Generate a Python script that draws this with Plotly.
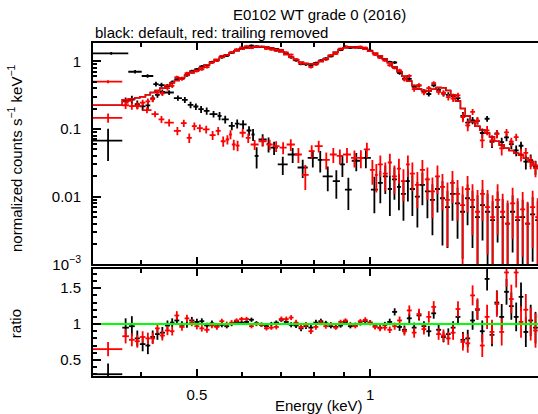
import numpy as np
import plotly.graph_objects as go

# ---------------- data ----------------
# source spectrum channel edges (keV), shared by both data sets
src_edges = [0.330, 0.371, 0.381, 0.390, 0.398, 0.407, 0.415, 0.423, 0.431, 0.440,
             0.449, 0.457, 0.466, 0.476, 0.485, 0.495, 0.505, 0.515, 0.526, 0.536,
             0.547, 0.558, 0.569, 0.580, 0.592, 0.604, 0.616, 0.628, 0.641, 0.654,
             0.667, 0.680, 0.694, 0.708, 0.722, 0.736, 0.751, 0.766, 0.781, 0.797,
             0.813, 0.829, 0.846, 0.863, 0.880, 0.897, 0.915, 0.933, 0.952, 0.971,
             0.990, 1.010, 1.030, 1.050, 1.071, 1.092, 1.114, 1.136, 1.158, 1.181,
             1.204, 1.228, 1.252, 1.277, 1.302, 1.328, 1.354, 1.380, 1.407, 1.435,
             1.463, 1.492, 1.521, 1.551, 1.581, 1.612, 1.644, 1.676, 1.709, 1.742,
             1.776, 1.811, 1.846, 1.882, 1.919, 1.956, 1.994]

# folded model (normalized counts s^-1 keV^-1)
src_model = [0.225, 0.27, 0.28, 0.29, 0.30, 0.32, 0.345, 0.37, 0.40, 0.44,
             0.48, 0.52, 0.57, 0.62, 0.68, 0.74, 0.81, 0.89, 0.97, 1.06,
             1.15, 1.24, 1.34, 1.43, 1.50, 1.56, 1.61, 1.64, 1.65, 1.63,
             1.57, 1.49, 1.38, 1.26, 1.15, 1.05, 0.97, 0.925, 0.91, 0.93,
             0.99, 1.09, 1.22, 1.36, 1.49, 1.58, 1.63, 1.63, 1.58, 1.50,
             1.41, 1.31, 1.20, 1.08, 0.95, 0.82, 0.70, 0.60, 0.51, 0.44,
             0.39, 0.37, 0.365, 0.385, 0.41, 0.405, 0.37, 0.32, 0.26, 0.20,
             0.155, 0.128, 0.110, 0.097, 0.087, 0.076, 0.066, 0.058, 0.052, 0.048,
             0.044, 0.041, 0.037, 0.033, 0.029, 0.026]

# data/model ratios and their errors
ratio_black = [0.30, 0.95, 0.97, 0.80, 0.72, 0.70, 0.82, 0.86, 0.88, 0.98,
               1.02, 1.05, 0.99, 1.00, 1.05, 1.03, 1.04, 0.98, 1.01, 0.97,
               0.99, 0.97, 1.00, 1.03, 1.02, 1.03, 1.06, 1.01, 0.99, 0.97,
               1.00, 1.02, 1.06, 1.03, 0.99, 0.98, 0.94, 0.97, 0.95, 1.02,
               1.04, 1.01, 0.97, 0.96, 0.98, 1.03, 0.97, 0.99, 1.01, 1.04,
               1.02, 0.97, 0.95, 0.99, 1.03, 1.17, 0.96, 0.92, 1.08, 0.95,
               1.12, 0.97, 0.90, 1.15, 0.92, 0.82, 0.86, 0.95, 1.10, 0.78,
               0.80, 1.05, 1.20, 0.90, 1.63, 0.85, 1.30, 1.10, 1.45, 1.25,
               1.10, 1.38, 0.89, 1.05, 0.95, 1.10]
ratio_black_err = [0.15, 0.13, 0.14, 0.11, 0.10, 0.12, 0.09, 0.08, 0.08, 0.07,
                   0.06, 0.06, 0.05, 0.05, 0.05, 0.045, 0.04, 0.04, 0.04, 0.035,
                   0.035, 0.03, 0.03, 0.03, 0.03, 0.03, 0.03, 0.03, 0.03, 0.03,
                   0.03, 0.03, 0.03, 0.035, 0.035, 0.035, 0.04, 0.04, 0.04, 0.04,
                   0.035, 0.035, 0.03, 0.03, 0.03, 0.03, 0.03, 0.03, 0.03, 0.03,
                   0.035, 0.035, 0.035, 0.04, 0.045, 0.05, 0.055, 0.06, 0.065, 0.07,
                   0.07, 0.07, 0.075, 0.075, 0.07, 0.075, 0.08, 0.09, 0.10, 0.11,
                   0.12, 0.13, 0.14, 0.15, 0.16, 0.16, 0.17, 0.18, 0.18, 0.19,
                   0.20, 0.20, 0.21, 0.22, 0.22, 0.23]
ratio_red = [0.65, 0.83, 0.78, 0.76, 0.82, 0.80, 0.80, 0.94, 0.84, 0.91,
             0.90, 1.12, 0.96, 1.08, 1.02, 0.97, 0.94, 0.92, 0.98, 0.96,
             1.04, 1.00, 1.02, 1.05, 1.07, 1.07, 0.97, 1.00, 0.99, 0.94,
             0.95, 0.96, 1.07, 1.07, 1.09, 1.02, 0.96, 0.99, 0.90, 0.96,
             1.02, 0.97, 1.00, 0.95, 1.03, 1.05, 1.00, 0.97, 1.04, 1.06,
             1.02, 0.96, 0.94, 0.95, 0.92, 0.97, 1.05, 0.90, 1.19, 0.88,
             1.14, 0.93, 1.10, 1.24, 0.86, 0.84, 0.80, 0.88, 1.21, 0.75,
             0.73, 1.40, 1.21, 0.70, 1.10, 0.89, 1.28, 0.89, 1.72, 1.35,
             1.72, 1.03, 1.20, 1.00, 0.91, 1.12]
ratio_red_err = [0.10, 0.10, 0.09, 0.09, 0.08, 0.08, 0.08, 0.07, 0.07, 0.065,
                 0.06, 0.06, 0.055, 0.05, 0.05, 0.045, 0.045, 0.04, 0.04, 0.04,
                 0.035, 0.035, 0.035, 0.03, 0.03, 0.03, 0.03, 0.03, 0.03, 0.03,
                 0.03, 0.035, 0.035, 0.035, 0.035, 0.04, 0.04, 0.04, 0.04, 0.04,
                 0.035, 0.035, 0.03, 0.03, 0.03, 0.03, 0.03, 0.03, 0.03, 0.035,
                 0.035, 0.035, 0.04, 0.04, 0.045, 0.05, 0.055, 0.06, 0.07, 0.07,
                 0.075, 0.075, 0.08, 0.08, 0.08, 0.085, 0.09, 0.10, 0.11, 0.12,
                 0.13, 0.14, 0.15, 0.16, 0.17, 0.17, 0.18, 0.19, 0.20, 0.20,
                 0.21, 0.22, 0.22, 0.23, 0.24, 0.25]

# lower spectra (black / red)
bkg_black_edges = [0.330, 0.380, 0.401, 0.420, 0.429, 0.439, 0.456, 0.471, 0.482, 0.493,
                   0.503, 0.514, 0.526, 0.543, 0.552, 0.568, 0.582, 0.593, 0.610, 0.622,
                   0.630, 0.640, 0.661, 0.671, 0.691, 0.719, 0.748, 0.779, 0.811, 0.827,
                   0.861, 0.886, 0.904, 0.929, 0.963, 1.003, 1.031, 1.052, 1.073, 1.091,
                   1.113, 1.131, 1.154, 1.172, 1.196, 1.220, 1.245, 1.270, 1.296, 1.322,
                   1.349, 1.376, 1.404, 1.433, 1.462, 1.491, 1.521, 1.552, 1.583, 1.616,
                   1.648, 1.682, 1.716, 1.750, 1.786, 1.822, 1.859, 1.896, 1.935, 1.974]
bkg_black = [1.31, 0.70, 0.606, 0.46, 0.445, 0.346, 0.286, 0.27, 0.227, 0.215,
             0.196, 0.185, 0.166, 0.156, 0.139, 0.111, 0.12, 0.117, 0.095, 0.083,
             0.040, 0.070, 0.060, 0.053, 0.030, 0.042, 0.027, 0.0375, 0.035, 0.020,
             0.017, 0.030, 0.0127, 0.034, 0.0375, 0.0127, 0.016, 0.020, 0.013, 0.018,
             0.014, 0.011, 0.017, 0.013, 0.010, 0.015, 0.012, 0.009, 0.013, 0.0095,
             0.007, 0.011, 0.008, 0.006, 0.0095, 0.007, 0.005, 0.0075, 0.006, 0.0045,
             0.007, 0.005, 0.004, 0.006, 0.0045, 0.005, 0.004, 0.0055, 0.0045]
bkg_black_relerr = [0.05, 0.06, 0.06, 0.08, 0.08, 0.08, 0.09, 0.10, 0.11, 0.11,
                    0.12, 0.12, 0.11, 0.14, 0.13, 0.14, 0.15, 0.15, 0.16, 0.20,
                    0.35, 0.20, 0.25, 0.22, 0.30, 0.25, 0.30, 0.28, 0.35, 0.40,
                    0.45, 0.35, 0.50, 0.30, 0.30, 0.55, 0.50, 0.45, 0.60, 0.50,
                    0.55, 0.60, 0.50, 0.60, 0.65, 0.50, 0.60, 0.70, 0.55, 0.80,
                    0.75, 0.60, 0.70, 0.80, 0.60, 0.75, 1.10, 0.70, 0.85, 0.90,
                    0.70, 0.85, 1.00, 0.75, 0.90, 0.80, 1.00, 0.80, 0.90]
bkg_red_edges = [0.330, 0.371, 0.387, 0.402, 0.417, 0.429, 0.439, 0.456, 0.469, 0.480,
                 0.490, 0.500, 0.512, 0.526, 0.539, 0.550, 0.561, 0.569, 0.575, 0.584,
                 0.593, 0.608, 0.620, 0.640, 0.661, 0.677, 0.696, 0.716, 0.740, 0.761,
                 0.782, 0.801, 0.827, 0.851, 0.875, 0.897, 0.926, 0.952, 0.975, 0.999,
                 1.019, 1.031, 1.052, 1.073, 1.091, 1.113, 1.131, 1.154, 1.172, 1.196,
                 1.220, 1.245, 1.270, 1.296, 1.322, 1.349, 1.376, 1.404, 1.433, 1.462,
                 1.491, 1.521, 1.552, 1.583, 1.616, 1.648, 1.682, 1.716, 1.750, 1.786,
                 1.822, 1.859, 1.896, 1.935, 1.974]
bkg_red = [0.50, 0.26, 0.22, 0.19, 0.166, 0.139, 0.124, 0.094, 0.122, 0.074,
           0.110, 0.103, 0.099, 0.081, 0.094, 0.066, 0.070, 0.083, 0.059, 0.057,
           0.088, 0.074, 0.059, 0.066, 0.059, 0.056, 0.053, 0.059, 0.042, 0.021,
           0.047, 0.056, 0.035, 0.042, 0.040, 0.042, 0.0375, 0.0375, 0.050, 0.025,
           0.021, 0.030, 0.022, 0.032, 0.020, 0.026, 0.017, 0.030, 0.022, 0.015,
           0.025, 0.018, 0.012, 0.020, 0.014, 0.009, 0.016, 0.011, 0.0075, 0.013,
           0.009, 0.006, 0.011, 0.007, 0.005, 0.009, 0.006, 0.004, 0.008, 0.005,
           0.0065, 0.004, 0.007, 0.005]
bkg_red_relerr = [0.05, 0.09, 0.09, 0.10, 0.10, 0.12, 0.12, 0.14, 0.12, 0.16,
                  0.13, 0.13, 0.13, 0.15, 0.14, 0.17, 0.16, 0.15, 0.18, 0.18,
                  0.15, 0.16, 0.17, 0.17, 0.18, 0.18, 0.20, 0.20, 0.25, 0.40,
                  0.22, 0.20, 0.28, 0.25, 0.25, 0.25, 0.28, 0.30, 0.25, 0.40,
                  0.45, 0.35, 0.45, 0.35, 0.45, 0.40, 0.50, 0.35, 0.45, 0.55,
                  0.40, 0.50, 0.60, 0.45, 0.55, 0.80, 0.50, 0.60, 0.90, 0.55,
                  0.70, 1.10, 0.60, 0.80, 1.10, 0.70, 0.85, 1.20, 0.70, 0.90,
                  0.80, 1.10, 0.75, 0.90]

x_major = [0.5, 1]
x_minor = [0.4, 0.6, 0.7, 0.8, 0.9, 2]
y_top_major = [1, 0.1, 0.01, 0.001]
y_top_labels = ["1", "0.1", "0.01", "10<sup>\u22123</sup>"]
y_ratio_major = [0.5, 1, 1.5]
y_ratio_labels = ["0.5", "1", "1.5"]

BLACK = "#000000"
RED = "#ff0000"
GREEN = "#00ff00"
FONT = "Liberation Sans, Arial, Helvetica, sans-serif"


def bins(edges):
    e = np.asarray(edges, dtype=float)
    lo, hi = e[:-1], e[1:]
    c = 0.5 * (lo + hi)
    return c, hi - c, c - lo


def cross(edges, y, ey, color, xa, ya, logy=False):
    c, xp, xm = bins(edges)
    y = np.asarray(y, dtype=float)
    ey = np.asarray(ey, dtype=float)
    eym = np.minimum(ey, y * 0.9999) if logy else ey
    return go.Scatter(
        x=c, y=y, mode="markers", xaxis=xa, yaxis=ya,
        marker=dict(size=2, color=color),
        error_x=dict(type="data", symmetric=False, array=xp, arrayminus=xm,
                     color=color, thickness=1.8, width=0),
        error_y=dict(type="data", symmetric=False, array=ey, arrayminus=eym,
                     color=color, thickness=1.8, width=0),
        showlegend=False, hoverinfo="skip")


model = np.asarray(src_model)
src_black = model * np.asarray(ratio_black)
src_black_err = model * np.asarray(ratio_black_err)
src_red = model * np.asarray(ratio_red)
src_red_err = model * np.asarray(ratio_red_err)
bb = np.asarray(bkg_black)
br = np.asarray(bkg_red)

fig = go.Figure()
# top panel: black data set
fig.add_trace(cross(src_edges, src_black, src_black_err, BLACK, "x2", "y2", True))
fig.add_trace(cross(bkg_black_edges, bb, bb * np.asarray(bkg_black_relerr), BLACK, "x2", "y2", True))
# top panel: red data set
fig.add_trace(cross(src_edges, src_red, src_red_err, RED, "x2", "y2", True))
fig.add_trace(cross(bkg_red_edges, br, br * np.asarray(bkg_red_relerr), RED, "x2", "y2", True))
# model histograms
step_y = list(src_model) + [src_model[-1]]
for col in (BLACK, RED):
    fig.add_trace(go.Scatter(x=src_edges, y=step_y, mode="lines", line=dict(color=col, width=1.5, shape="hv"),
                             xaxis="x2", yaxis="y2", showlegend=False, hoverinfo="skip"))

# ratio panel
fig.add_trace(cross(src_edges, ratio_black, ratio_black_err, BLACK, "x", "y"))
fig.add_trace(cross(src_edges, ratio_red, ratio_red_err, RED, "x", "y"))
fig.add_trace(go.Scatter(x=[0.30, 2.2], y=[1, 1], mode="lines", line=dict(color=GREEN, width=2),
                         xaxis="x", yaxis="y", showlegend=False, hoverinfo="skip"))

xrange = [np.log10(0.33), np.log10(1.957)]
axis_common = dict(showline=True, linecolor=BLACK, linewidth=2, ticks="inside", tickcolor=BLACK,
                   tickwidth=1.5, showgrid=False, zeroline=False,
                   tickfont=dict(family=FONT, size=15, color=BLACK))
xa = dict(axis_common, type="log", range=xrange, tickmode="array", tickvals=x_major, ticktext=["0.5", "1"],
          ticklen=7, mirror="ticks",
          minor=dict(tickmode="array", tickvals=x_minor, ticks="inside", ticklen=4, tickwidth=1.5, tickcolor=BLACK))
top_minor = [k * 10.0 ** e for e in (-3, -2, -1) for k in range(2, 10)]
ratio_minor = [0.3, 0.4, 0.6, 0.7, 0.8, 0.9, 1.1, 1.2, 1.3, 1.4, 1.6, 1.7]

fig.update_layout(
    width=538, height=414,
    margin=dict(l=93, r=0, t=43, b=38),
    paper_bgcolor="white", plot_bgcolor="white",
    font=dict(family=FONT, size=15, color=BLACK),
    xaxis=dict(xa, anchor="y", domain=[0, 1], ticklabelstandoff=4),
    xaxis2=dict(xa, anchor="y2", domain=[0, 1], showticklabels=False, matches="x"),
    yaxis=dict(axis_common, anchor="x", domain=[0, 0.321], range=[0.275, 1.767], tickmode="array",
               tickvals=y_ratio_major, ticktext=y_ratio_labels, ticklen=8, ticklabelstandoff=7,
               minor=dict(tickmode="array", tickvals=ratio_minor, ticks="inside", ticklen=4,
                          tickwidth=1.5, tickcolor=BLACK)),
    yaxis2=dict(axis_common, anchor="x2", domain=[0.335, 1], type="log", range=[-3, 0.27], tickmode="array",
                tickvals=y_top_major, ticktext=y_top_labels, ticklen=8, ticklabelstandoff=7,
                minor=dict(tickmode="array", tickvals=top_minor, ticks="inside", ticklen=4,
                           tickwidth=1.5, tickcolor=BLACK)),
    annotations=[
        dict(text="E0102 WT grade 0 (2016)", x=0.508, y=1.086, xref="paper", yref="paper",
             xanchor="center", yanchor="middle", showarrow=False, font=dict(size=15)),
        dict(text="black: default, red: trailing removed", x=0.0, y=1.032, xref="paper", yref="paper",
             xanchor="left", yanchor="middle", showarrow=False, font=dict(size=15)),
        dict(text="Energy (keV)", x=0.508, y=-0.09, xref="paper", yref="paper",
             xanchor="center", yanchor="middle", showarrow=False, font=dict(size=15)),
        dict(text="normalized counts s<sup>\u22121</sup> keV<sup>\u22121</sup>", x=-0.175, y=0.655,
             xref="paper", yref="paper", xanchor="center", yanchor="middle", textangle=-90,
             showarrow=False, font=dict(size=15)),
        dict(text="ratio", x=-0.175, y=0.156, xref="paper", yref="paper", xanchor="center",
             yanchor="middle", textangle=-90, showarrow=False, font=dict(size=15)),
    ],
)

fig.write_html("out.html")
